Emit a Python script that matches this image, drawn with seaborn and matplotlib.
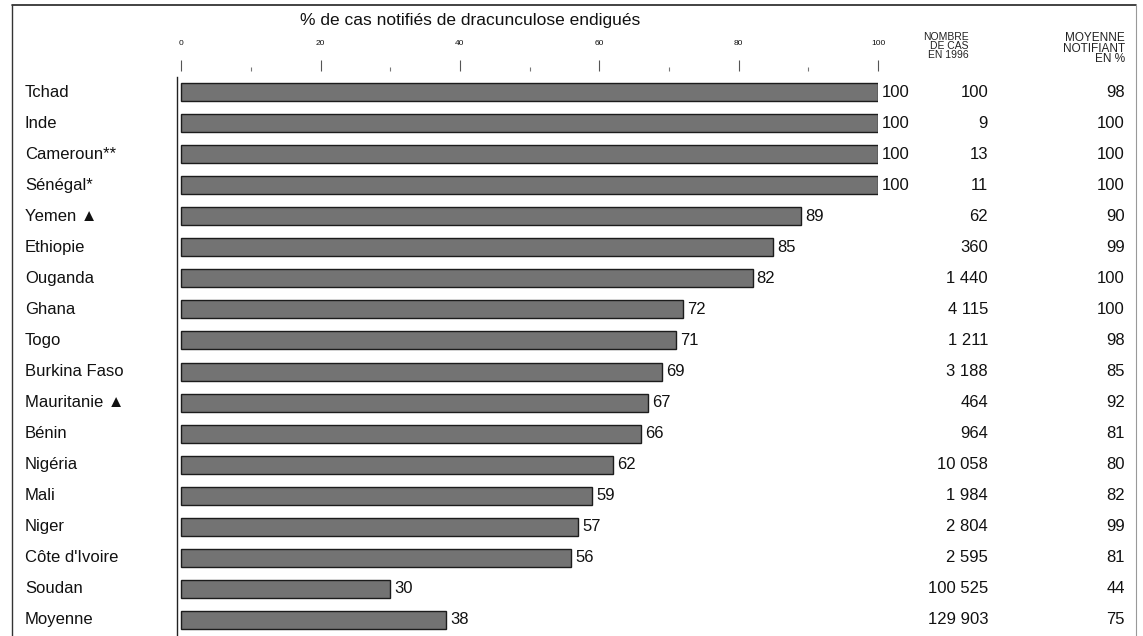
import numpy as np
import pandas as pd
import matplotlib as mpl
mpl.use("Agg")
import matplotlib.pyplot as plt
import seaborn as sns
from matplotlib.lines import Line2D
from matplotlib.transforms import blended_transform_factory
from matplotlib.ticker import MultipleLocator

pays = ["Tchad", "Inde", "Cameroun**", "Sénégal*", "Yemen \u25B2", "Ethiopie",
        "Ouganda", "Ghana", "Togo", "Burkina Faso", "Mauritanie \u25B2", "Bénin",
        "Nigéria", "Mali", "Niger", "Côte d'Ivoire", "Soudan", "Moyenne"]
pct_endigues = [100, 100, 100, 100, 89, 85, 82, 72, 71, 69, 67, 66, 62, 59, 57, 56, 30, 38]
nombre_cas = ["100", "9", "13", "11", "62", "360", "1 440", "4 115", "1 211", "3 188",
              "464", "964", "10 058", "1 984", "2 804", "2 595", "100 525", "129 903"]
moyenne_notif = [98, 100, 100, 100, 90, 99, 100, 100, 98, 85, 92, 81, 80, 82, 99, 81, 44, 75]

sns.set_theme(style="white")
plt.rcParams['font.family'] = ['Liberation Sans', 'DejaVu Sans']

W, H = 1143, 636
fig = plt.figure(figsize=(W / 100, H / 100), dpi=100)
ax = fig.add_axes([177 / W, 1 - 635.5 / H, (878 - 177) / W, (635.5 - 76.5) / H])

df = pd.DataFrame({"pays": pays, "pct": pct_endigues})
sns.barplot(data=df, x="pct", y="pays", orient="h", color="#737373", saturation=1,
            edgecolor="#1c1c1c", linewidth=1.0, width=0.58, ax=ax)

ax.set_xlim(-0.6, 100)
ax.set_ylim(len(pays) - 0.5, -0.5)
for c in ax.containers:
    ax.bar_label(c, fmt="%d", padding=3, fontsize=12, color="#111")

# axis dressing
for s in ["right", "bottom"]:
    ax.spines[s].set_visible(False)
ax.spines["left"].set_color("#222")
ax.spines["left"].set_linewidth(1)
ax.spines["top"].set_position(("outward", 4))
ax.spines["top"].set_visible(False)
ax.xaxis.tick_top()
ax.xaxis.set_major_locator(MultipleLocator(20))
ax.xaxis.set_minor_locator(MultipleLocator(10))
ax.tick_params(axis="x", which="major", direction="out", length=8, width=0.8,
               color="#555", labelsize=6, pad=9, labelcolor="#111")
ax.tick_params(axis="x", which="minor", direction="out", length=3, width=0.8, color="#777")
ax.set_xlabel("")
ax.set_ylabel("")
ax.set_yticks([])

tr = blended_transform_factory(fig.transFigure, ax.transData)
for i, p in enumerate(pays):
    ax.text(25 / W, i, p, transform=tr, ha="left", va="center", fontsize=12, color="#111")
    ax.text(988 / W, i, nombre_cas[i], transform=tr, ha="right", va="center",
            fontsize=12, color="#111")
    ax.text(1125 / W, i, str(moyenne_notif[i]), transform=tr, ha="right", va="center",
            fontsize=12, color="#111")

fig.text(470 / W, 1 - 20 / H, "% de cas notifiés de dracunculose endigués",
         ha="center", va="center", fontsize=12.5, color="#111")
fig.text(969 / W, 1 - 32 / H, "NOMBRE\nDE CAS\nEN 1996", ha="right", va="top",
         fontsize=7.5, linespacing=0.85, color="#222", multialignment="right")
fig.text(1125 / W, 1 - 32 / H, "MOYENNE\nNOTIFIANT\nEN %", ha="right", va="top",
         fontsize=8.5, linespacing=0.85, color="#222", multialignment="right")

# outer frame
fig.add_artist(Line2D([12 / W, 1136 / W], [1 - 5 / H, 1 - 5 / H], color="#222", lw=1.2))
fig.add_artist(Line2D([12 / W, 12 / W], [0, 1 - 5 / H], color="#333", lw=1))
fig.add_artist(Line2D([1136 / W, 1136 / W], [0, 1 - 5 / H], color="#999", lw=0.8))

fig.savefig("out.png", dpi=100)
